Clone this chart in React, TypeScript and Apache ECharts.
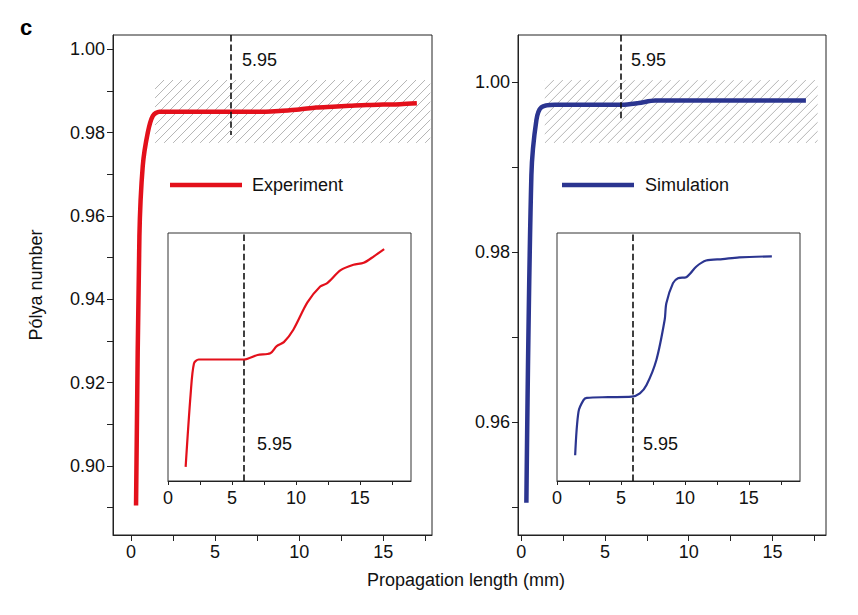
import { useEffect, useRef } from "react";
import * as echarts from "echarts";

// main curves: [propagation length (mm), Pólya number]
const experiment = [
  [0.3, 0.8905], [0.5, 0.955], [0.7, 0.972], [1.0, 0.98], [1.3, 0.984], [1.7, 0.985],
  [3, 0.985], [5, 0.985], [7, 0.985], [8, 0.985], [9, 0.9852], [10, 0.9855], [11, 0.986],
  [12, 0.9862], [13, 0.9864], [14, 0.9866], [15, 0.9867], [16, 0.9868], [17, 0.987],
];
const simulation = [
  [0.3, 0.9505], [0.6, 0.989], [0.9, 0.9955], [1.2, 0.997], [2, 0.9973], [4, 0.9973],
  [6, 0.9973], [7, 0.9975], [8, 0.9978], [10, 0.9978], [13, 0.9978], [17, 0.9978],
];
// insets (relative units)
const expInset = [
  [1.38, 5.7], [1.77, 35], [2.03, 47.4], [2.4, 49], [4, 49], [5.94, 49], [7.0, 50.8],
  [8.0, 51.5], [8.5, 54.4], [9.06, 56], [9.8, 61], [10.9, 72], [11.9, 78.4], [12.45, 79.8],
  [13.5, 85], [14.5, 87.2], [15.3, 88], [16.1, 90.6], [16.9, 93.5],
];
const simInset = [
  [1.42, 10.4], [1.68, 27.9], [2.07, 32.6], [2.33, 33.5], [4, 33.8], [5.83, 34], [6.48, 35.3],
  [7.0, 38.7], [7.77, 48.8], [8.42, 65], [8.55, 71.7], [9.07, 79.8], [9.46, 81.8], [10.1, 82.2],
  [10.9, 86.5], [11.66, 88.9], [12.95, 89.5], [14.25, 90.2], [16.8, 90.6],
];
// hatched bands [x0, y0, x1, y1]
const expBand = [[1.43, 0.9775, 17.8, 0.9926]];
const simBand = [[1.4, 0.9928, 17.7, 1.0002]];
const marker = 5.95;

const mainXTicks = [0, 2.5, 5, 7.5, 10, 12.5, 15, 17.5];
const mainXLabels = [0, 5, 10, 15];
const insetXTicks = [0, 2.5, 5, 7.5, 10, 12.5, 15, 17.5];
const expYTicks = [0.89, 0.9, 0.91, 0.92, 0.93, 0.94, 0.95, 0.96, 0.97, 0.98, 0.99, 1.0];
const expYLabels = [0.9, 0.92, 0.94, 0.96, 0.98, 1.0];
const simYTicks = [0.95, 0.96, 0.97, 0.98, 0.99, 1.0];
const simYLabels = [0.96, 0.98, 1.0];

const font = "Liberation Sans, Arial, sans-serif";
const red = "#e3101b";
const blue = "#2b3590";

function hatch(params: any, api: any) {
  const p0 = api.coord([api.value(0), api.value(3)]);
  const p1 = api.coord([api.value(2), api.value(1)]);
  const x = p0[0], y = p0[1], w = p1[0] - p0[0], h = p1[1] - p0[1];
  const lines: any[] = [];
  for (let s = -h; s < w + h; s += 9) {
    lines.push({
      type: "line",
      shape: { x1: x + s, y1: y + h, x2: x + s + h, y2: y },
      style: { stroke: "#b5b5b5", lineWidth: 1 },
    });
  }
  return {
    type: "group",
    children: lines,
    clipPath: { type: "rect", shape: { x, y, width: w, height: h } },
  };
}

function xAxis(gridIndex: number, min: number, max: number) {
  return {
    type: "value", gridIndex, min, max,
    axisLine: { show: true, onZero: false, lineStyle: { color: "#222" } },
    axisTick: { show: true, customValues: gridIndex < 2 ? mainXTicks : insetXTicks, length: gridIndex < 2 ? 6 : 4, lineStyle: { color: "#222" } },
    axisLabel: { customValues: mainXLabels, color: "#111", fontSize: 18, fontFamily: font, margin: 8 },
    splitLine: { show: false },
  };
}

function yAxis(gridIndex: number, min: number, max: number, ticks: number[], labels: number[]) {
  return {
    type: "value", gridIndex, min, max,
    axisLine: { show: true, onZero: false, lineStyle: { color: "#222" } },
    axisTick: { show: true, customValues: ticks, length: 6, lineStyle: { color: "#222" } },
    axisLabel: { customValues: labels, color: "#111", fontSize: 18, fontFamily: font, formatter: (v: number) => v.toFixed(2) },
    splitLine: { show: false },
  };
}

export default function App() {
  const ref = useRef<HTMLDivElement>(null);

  useEffect(() => {
    if (!ref.current) return;
    const chart = echarts.init(ref.current, null, { renderer: "svg" });
    const dash = { type: "dashed", color: "#111", width: 1.6 };
    chart.setOption({
      animation: false,
      backgroundColor: "#fff",
      grid: [
        { left: 113, top: 35, width: 319, height: 500, show: true, borderColor: "#222", borderWidth: 1 },
        { left: 518, top: 35, width: 308, height: 500, show: true, borderColor: "#222", borderWidth: 1 },
        { left: 168, top: 233, width: 243, height: 248, show: true, borderColor: "#333", borderWidth: 1, backgroundColor: "#fff", z: 5 },
        { left: 557, top: 233, width: 243, height: 248, show: true, borderColor: "#333", borderWidth: 1, backgroundColor: "#fff", z: 5 },
      ],
      xAxis: [
        xAxis(0, -1.07, 17.9),
        xAxis(1, -0.2, 18.2),
        { ...xAxis(2, 0, 19), z: 6 },
        { ...xAxis(3, 0, 19), z: 6 },
      ],
      yAxis: [
        yAxis(0, 0.8834, 1.0034, expYTicks, expYLabels),
        yAxis(1, 0.9467, 1.0055, simYTicks, simYLabels),
        { type: "value", gridIndex: 2, min: 0, max: 100, show: false },
        { type: "value", gridIndex: 3, min: 0, max: 100, show: false },
      ],
      series: [
        { type: "custom", xAxisIndex: 0, yAxisIndex: 0, renderItem: hatch, data: expBand, encode: { x: [0, 2], y: [1, 3] }, silent: true },
        { type: "custom", xAxisIndex: 1, yAxisIndex: 1, renderItem: hatch, data: simBand, encode: { x: [0, 2], y: [1, 3] }, silent: true },
        {
          type: "line", xAxisIndex: 0, yAxisIndex: 0, data: experiment, smooth: 0.3, symbol: "none",
          lineStyle: { color: red, width: 4.5 },
          markLine: { silent: true, symbol: "none", label: { show: false }, lineStyle: dash, data: [[{ coord: [marker, 1.0034] }, { coord: [marker, 0.9794] }]] },
        },
        {
          type: "line", xAxisIndex: 1, yAxisIndex: 1, data: simulation, smooth: 0.3, symbol: "none",
          lineStyle: { color: blue, width: 4.5 },
          markLine: { silent: true, symbol: "none", label: { show: false }, lineStyle: dash, data: [[{ coord: [marker, 1.0055] }, { coord: [marker, 0.9955] }]] },
        },
        {
          type: "line", xAxisIndex: 2, yAxisIndex: 2, data: expInset, smooth: 0.3, symbol: "none", z: 7,
          lineStyle: { color: red, width: 2.2 },
          markLine: { silent: true, symbol: "none", label: { show: false }, lineStyle: dash, data: [{ xAxis: marker }] },
        },
        {
          type: "line", xAxisIndex: 3, yAxisIndex: 3, data: simInset, smooth: 0.3, symbol: "none", z: 7,
          lineStyle: { color: blue, width: 2.2 },
          markLine: { silent: true, symbol: "none", label: { show: false }, lineStyle: dash, data: [{ xAxis: marker }] },
        },
      ],
      graphic: [
        { type: "text", left: 20, top: 16, style: { text: "c", font: `bold 22px ${font}`, fill: "#000" } },
        { type: "text", x: 36, y: 285, rotation: Math.PI / 2, style: { text: "Pólya number", font: `18px ${font}`, fill: "#111", align: "center", verticalAlign: "middle" } },
        { type: "text", x: 466, y: 580, style: { text: "Propagation length (mm)", font: `18px ${font}`, fill: "#111", align: "center", verticalAlign: "middle" } },
        { type: "text", x: 242, y: 60, style: { text: "5.95", font: `18px ${font}`, fill: "#111", verticalAlign: "middle" } },
        { type: "text", x: 631, y: 60, style: { text: "5.95", font: `18px ${font}`, fill: "#111", verticalAlign: "middle" } },
        { type: "text", x: 257, y: 444, z: 10, style: { text: "5.95", font: `18px ${font}`, fill: "#111", verticalAlign: "middle" } },
        { type: "text", x: 643, y: 444, z: 10, style: { text: "5.95", font: `18px ${font}`, fill: "#111", verticalAlign: "middle" } },
        { type: "line", shape: { x1: 170, y1: 185, x2: 242, y2: 185 }, style: { stroke: red, lineWidth: 4.5 } },
        { type: "text", x: 252, y: 185, style: { text: "Experiment", font: `18px ${font}`, fill: "#111", verticalAlign: "middle" } },
        { type: "line", shape: { x1: 562, y1: 185, x2: 634, y2: 185 }, style: { stroke: blue, lineWidth: 4.5 } },
        { type: "text", x: 645, y: 185, style: { text: "Simulation", font: `18px ${font}`, fill: "#111", verticalAlign: "middle" } },
      ],
    });
    return () => chart.dispose();
  }, []);

  return <div ref={ref} style={{ position: "fixed", left: 0, top: 0, width: 858, height: 615 }} />;
}
